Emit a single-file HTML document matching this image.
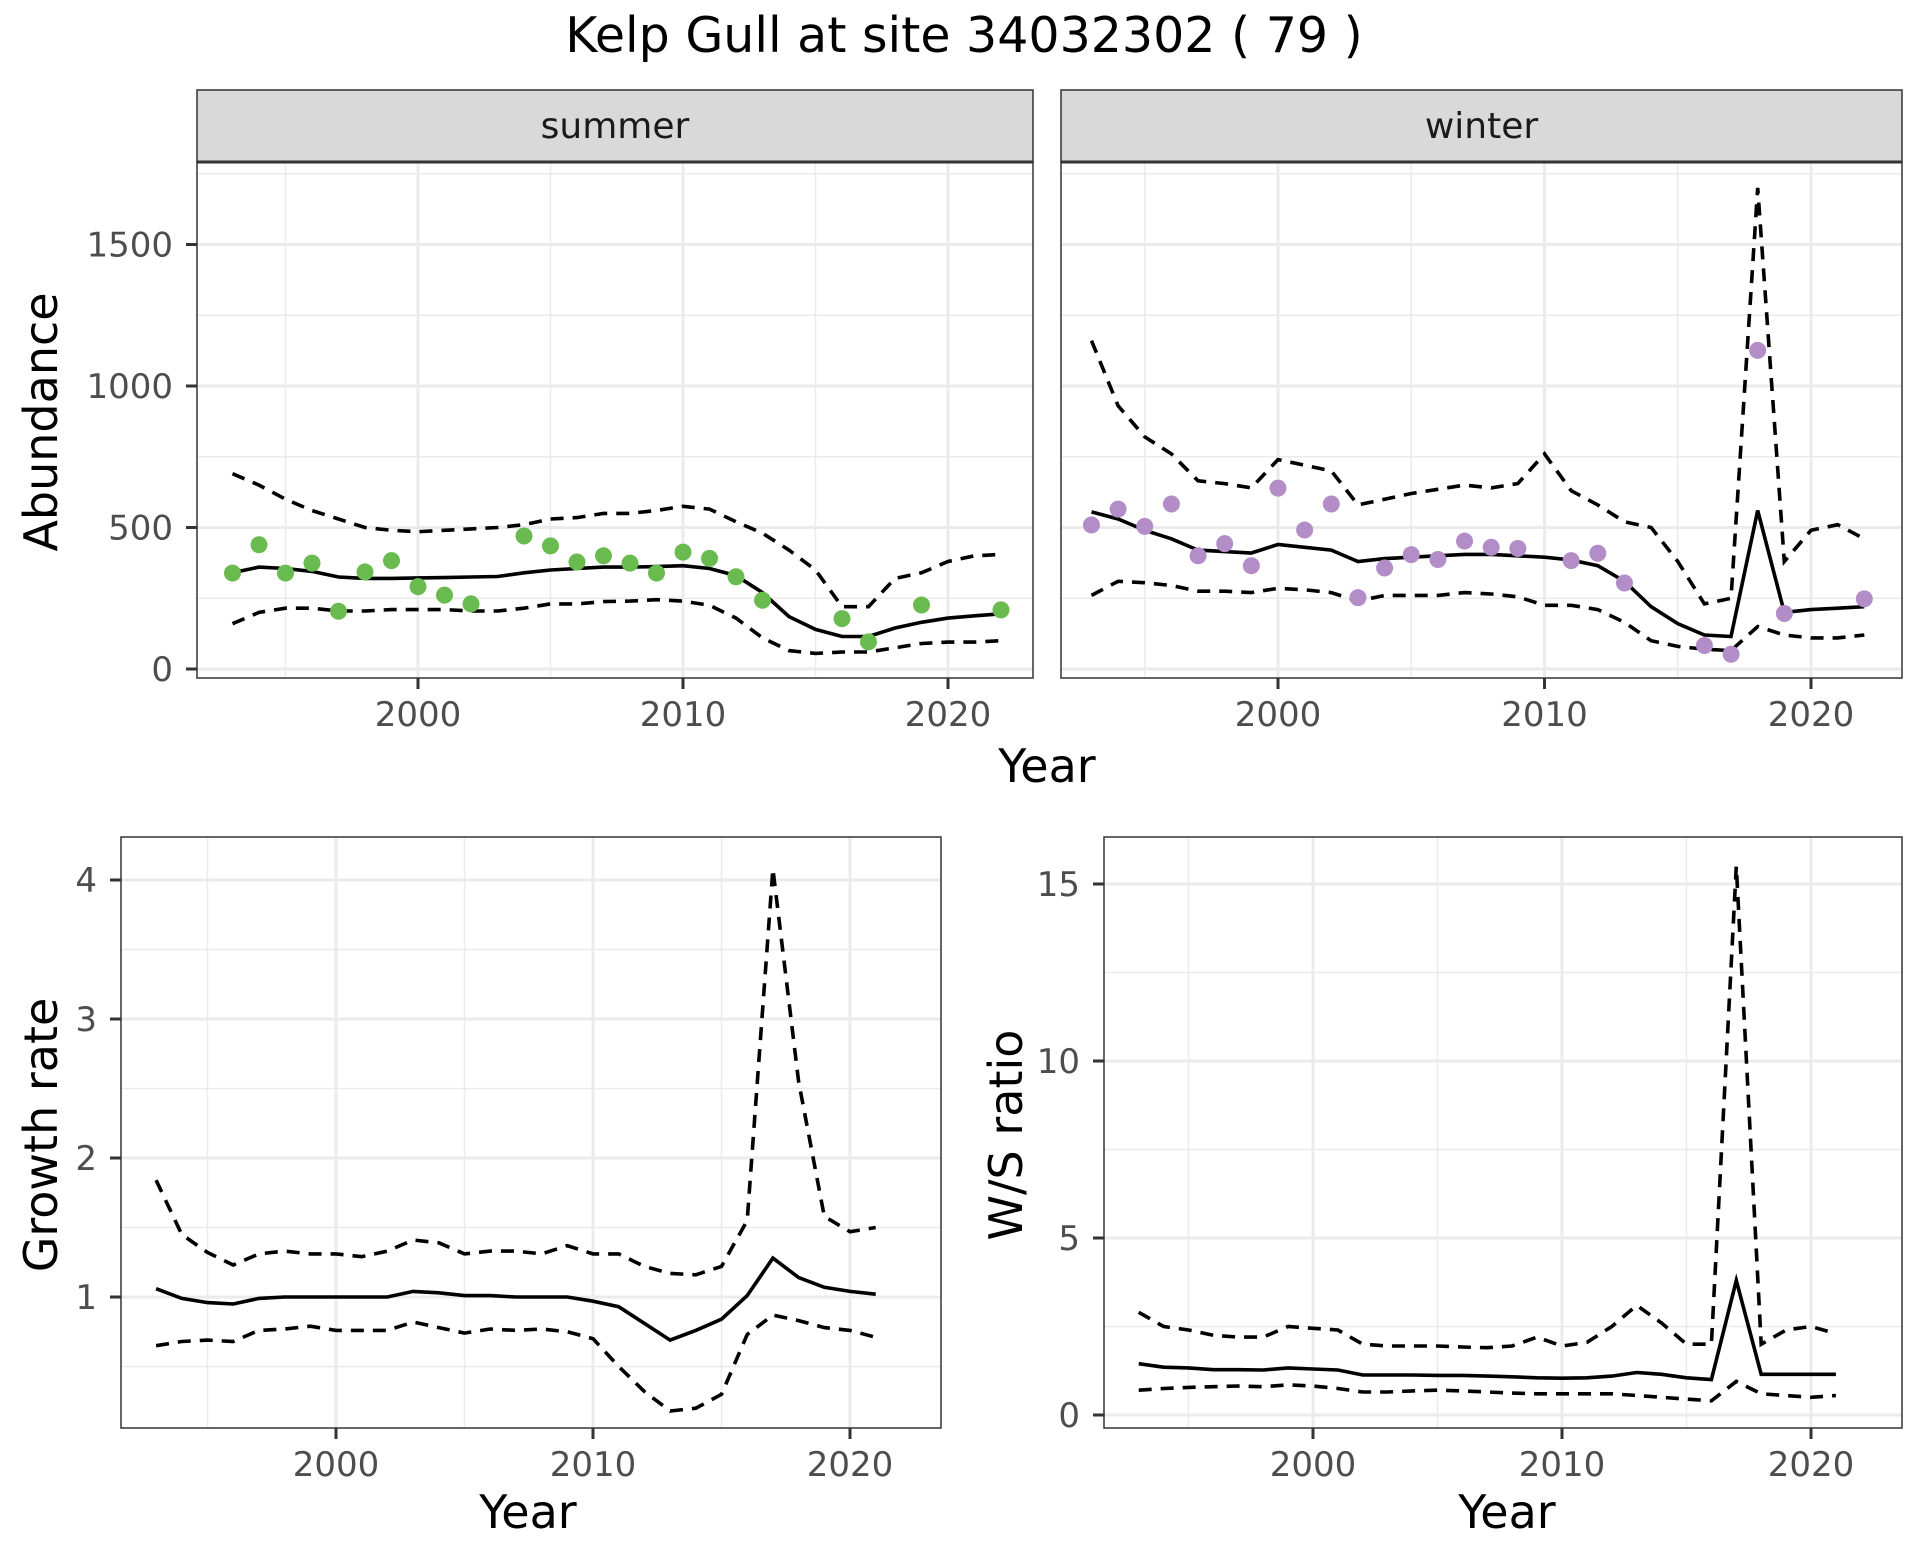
<!DOCTYPE html>
<html><head><meta charset="utf-8"><style>
body{margin:0;background:#fff}
svg text{font-family:"DejaVu Sans","Liberation Sans",sans-serif}
</style></head><body>
<svg id="c" width="1920" height="1560" viewBox="0 0 1920 1560" xmlns="http://www.w3.org/2000/svg">
<rect width="1920" height="1560" fill="#fff"/>
<text x="964" y="52" font-size="49" text-anchor="middle">Kelp Gull at site 34032302 ( 79 )</text>
</svg>
<script>
const yearsAbund=[1993,1994,1995,1996,1997,1998,1999,2000,2001,2002,2003,2004,2005,2006,2007,2008,2009,2010,2011,2012,2013,2014,2015,2016,2017,2018,2019,2020,2021,2022];
const summerObsYears=[1993,1994,1995,1996,1997,1998,1999,2000,2001,2002,2004,2005,2006,2007,2008,2009,2010,2011,2012,2013,2016,2017,2019,2022];
const summerObs=[339,439,339,374,204,343,383,291,261,230,470,435,378,400,374,339,413,391,326,243,178,96,226,209];
const summerMean=[340,360,355,345,325,320,320,322,323,325,327,340,350,355,360,360,362,365,355,330,270,185,140,115,115,145,165,180,188,195];
const summerUpper=[690,650,600,560,530,500,490,485,490,495,500,510,530,535,550,550,560,575,565,520,480,420,350,220,220,320,340,380,400,405];
const summerLower=[160,200,215,215,205,205,210,210,210,205,205,215,230,230,238,240,245,240,225,180,110,65,55,60,60,75,90,95,95,100];
const winterObsYears=[1993,1994,1995,1996,1997,1998,1999,2000,2001,2002,2003,2004,2005,2006,2007,2008,2009,2011,2012,2013,2016,2017,2018,2019,2022];
const winterObs=[509,565,504,583,400,443,365,639,491,583,252,357,404,387,452,430,426,383,409,304,83,52,1126,196,248];
const winterMean=[555,530,490,460,420,415,410,440,430,420,380,390,395,400,405,405,400,395,385,365,310,220,160,120,115,560,200,210,215,220];
const winterUpper=[1160,930,820,760,665,655,640,740,720,700,580,600,620,635,650,640,655,760,630,580,520,500,380,230,250,1700,380,490,510,460];
const winterLower=[260,310,305,295,275,275,270,285,280,270,240,260,260,260,270,265,255,225,225,210,165,100,80,70,65,150,120,110,110,120];
const yearsRate=[1993,1994,1995,1996,1997,1998,1999,2000,2001,2002,2003,2004,2005,2006,2007,2008,2009,2010,2011,2012,2013,2014,2015,2016,2017,2018,2019,2020,2021];
const growthMean=[1.06,0.99,0.96,0.95,0.99,1.0,1.0,1.0,1.0,1.0,1.04,1.03,1.01,1.01,1.0,1.0,1.0,0.97,0.93,0.81,0.69,0.76,0.84,1.01,1.28,1.14,1.07,1.04,1.02];
const growthUpper=[1.84,1.45,1.32,1.23,1.31,1.33,1.31,1.31,1.29,1.33,1.41,1.39,1.31,1.33,1.33,1.31,1.37,1.31,1.31,1.22,1.17,1.16,1.22,1.55,4.08,2.55,1.58,1.47,1.50];
const growthLower=[0.65,0.68,0.69,0.68,0.76,0.77,0.79,0.76,0.76,0.76,0.82,0.78,0.74,0.77,0.76,0.77,0.75,0.70,0.50,0.32,0.18,0.20,0.30,0.73,0.87,0.83,0.78,0.76,0.71];
const wsMean=[1.45,1.35,1.33,1.28,1.28,1.27,1.33,1.3,1.27,1.13,1.13,1.13,1.12,1.12,1.1,1.08,1.05,1.04,1.05,1.1,1.2,1.15,1.05,1.0,3.8,1.15,1.15,1.15,1.15];
const wsUpper=[2.9,2.5,2.4,2.25,2.2,2.2,2.5,2.45,2.4,2.0,1.95,1.95,1.95,1.92,1.9,1.95,2.2,1.95,2.05,2.5,3.1,2.6,2.0,2.0,15.5,2.0,2.4,2.5,2.3];
const wsLower=[0.7,0.75,0.78,0.8,0.82,0.8,0.85,0.82,0.75,0.65,0.65,0.68,0.7,0.68,0.65,0.62,0.6,0.6,0.6,0.6,0.55,0.5,0.45,0.4,0.95,0.6,0.55,0.5,0.55];
const xTicks=[2000,2010,2020];
const xMinor=[1995,2005,2015];
const abundTicks=[0,500,1000,1500];
const abundMinor=[250,750,1250,1750];
const growthTicks=[1,2,3,4];
const growthMinor=[0.5,1.5,2.5,3.5];
const wsTicks=[0,5,10,15];
const wsMinor=[2.5,7.5,12.5];

const svg=document.getElementById('c');
const NS='http://www.w3.org/2000/svg';
function el(tag,attrs,parent){const e=document.createElementNS(NS,tag);for(const k in attrs)e.setAttribute(k,attrs[k]);(parent||svg).appendChild(e);return e;}

function panel(o){
  const g=el('g',{});
  
  
  const X=v=>o.xp[0]+(v-2000)*(o.xp[1]-o.xp[0])/20;
  const Y=v=>o.yp[0]+(v-o.ya)*(o.yp[1]-o.yp[0])/(o.yb-o.ya);
  const inY=y=>y>=o.y0&&y<=o.y1;
  el('rect',{x:o.x0,y:o.y0,width:o.x1-o.x0,height:o.y1-o.y0,fill:'#fff'},g);
  o.yMinor.forEach(v=>{if(inY(Y(v)))el('line',{x1:o.x0,x2:o.x1,y1:Y(v),y2:Y(v),stroke:'#ebebeb','stroke-width':1.5},g);});
  xMinor.forEach(v=>el('line',{x1:X(v),x2:X(v),y1:o.y0,y2:o.y1,stroke:'#ebebeb','stroke-width':1.5},g));
  o.yTicks.forEach(v=>el('line',{x1:o.x0,x2:o.x1,y1:Y(v),y2:Y(v),stroke:'#ebebeb','stroke-width':3},g));
  xTicks.forEach(v=>el('line',{x1:X(v),x2:X(v),y1:o.y0,y2:o.y1,stroke:'#ebebeb','stroke-width':3},g));
  const line=(ys,vals,dash,nm)=>{
    const p=el('path',{d:ys.map((y,i)=>(i?'L':'M')+X(y).toFixed(1)+','+Y(vals[i]).toFixed(1)).join(''),fill:'none',stroke:'#000','stroke-width':3.6,'stroke-dasharray':dash?'13,9':'none'},g);
    
    
  };
  line(o.years,o.upper,true,'upper-bound-line');
  line(o.years,o.lower,true,'lower-bound-line');
  line(o.years,o.mean,false,'mean-line');
  if(o.obs){o.obsYears.forEach((y,i)=>{
    const c=el('circle',{cx:X(y),cy:Y(o.obs[i]),r:8.5,fill:o.color},g);
    
    
  });}
  el('rect',{x:o.x0,y:o.y0,width:o.x1-o.x0,height:o.y1-o.y0,fill:'none',stroke:'#333','stroke-width':1.5},g);
  if(o.showY){o.yTicks.forEach(v=>{
    el('line',{x1:o.x0-11,x2:o.x0,y1:Y(v),y2:Y(v),stroke:'#333','stroke-width':3},g);
    const t=el('text',{x:o.x0-24,y:Y(v)+12,'font-size':34,fill:'#4d4d4d','text-anchor':'end'},g);t.textContent=v;
    
    
  });}
  xTicks.forEach(v=>{
    el('line',{x1:X(v),x2:X(v),y1:o.y1,y2:o.y1+11,stroke:'#333','stroke-width':3},g);
    const t=el('text',{x:X(v),y:o.y1+48,'font-size':34,fill:'#4d4d4d','text-anchor':'middle'},g);t.textContent=v;
    
    
  });
  if(o.strip){
    el('rect',{x:o.x0,y:o.y0-72,width:o.x1-o.x0,height:72,fill:'#d9d9d9',stroke:'#333','stroke-width':1.5},g);
    el('line',{x1:o.x0,x2:o.x1,y1:o.y0,y2:o.y0,stroke:'#333','stroke-width':3},g);
    const t=el('text',{x:(o.x0+o.x1)/2,y:o.y0-24,'font-size':36,fill:'#1a1a1a','text-anchor':'middle'},g);t.textContent=o.strip;
    
    
  }
}
function label(txt,x,y,rot,name){
  const t=el('text',{x:x,y:y,'font-size':46,fill:'#000','text-anchor':'middle'});
  if(rot)t.setAttribute('transform',`rotate(-90 ${x} ${y})`);
  t.textContent=txt;
  
  
}
panel({name:'summer-panel',strip:'summer',x0:197,x1:1033,y0:162,y1:678,xp:[418,948],ya:0,yb:1500,yp:[669,244.5],
  years:yearsAbund,mean:summerMean,upper:summerUpper,lower:summerLower,obsYears:summerObsYears,obs:summerObs,color:'#6abb4f',
  yTicks:abundTicks,yMinor:abundMinor,showY:true});
panel({name:'winter-panel',strip:'winter',x0:1061,x1:1902,y0:162,y1:678,xp:[1278,1811],ya:0,yb:1500,yp:[669,244.5],
  years:yearsAbund,mean:winterMean,upper:winterUpper,lower:winterLower,obsYears:winterObsYears,obs:winterObs,color:'#b28dc7',
  yTicks:abundTicks,yMinor:abundMinor,showY:false});
panel({name:'growth-rate-panel',x0:121,x1:941,y0:837,y1:1428,xp:[336,850],ya:1,yb:4,yp:[1297,880],
  years:yearsRate,mean:growthMean,upper:growthUpper,lower:growthLower,
  yTicks:growthTicks,yMinor:growthMinor,showY:true});
panel({name:'ws-ratio-panel',x0:1104,x1:1902,y0:837,y1:1428,xp:[1313,1811],ya:0,yb:15,yp:[1415,884],
  years:yearsRate,mean:wsMean,upper:wsUpper,lower:wsLower,
  yTicks:wsTicks,yMinor:wsMinor,showY:true});
label('Abundance',57,422,true,'y-axis-title-abundance');
label('Year',1047,782,false,'x-axis-title-top');
label('Growth rate',57,1135,true,'y-axis-title-growth');
label('W/S ratio',1022,1135,true,'y-axis-title-ws');
label('Year',528,1528,false,'x-axis-title-growth');
label('Year',1507,1528,false,'x-axis-title-ws');
</script>
</body></html>
